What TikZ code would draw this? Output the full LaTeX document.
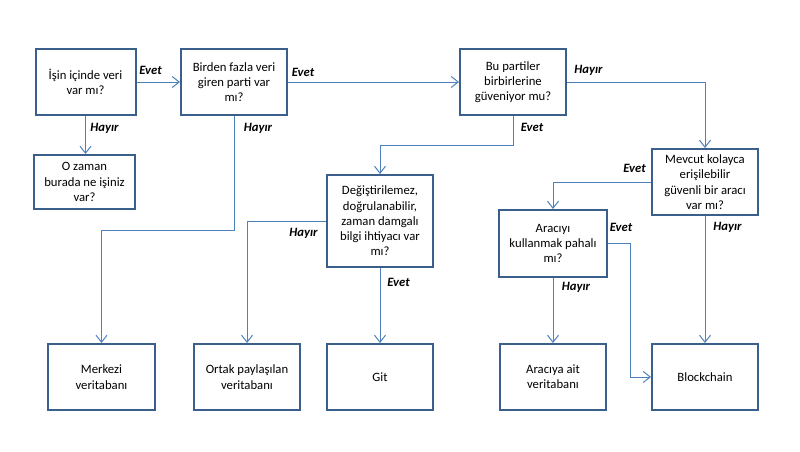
\documentclass[tikz,border=0pt]{standalone}
\usepackage{fontspec}
\setmainfont{Carlito}
\usetikzlibrary{arrows.meta}
\definecolor{boxblue}{HTML}{3A5F8B}
\definecolor{lineblue}{HTML}{4F81BD}
\begin{document}
\begin{tikzpicture}[x=1pt,y=-1pt,
  box/.style={draw=boxblue,line width=2pt,minimum width=106pt,minimum height=66pt,inner sep=0pt,align=center,font=\fontsize{12.7}{15.3}\selectfont},
  con/.style={draw=lineblue,line width=1pt,-{Straight Barb[length=7pt,width=11pt]}},
  ans/.style={font=\fontsize{12.7}{15.3}\selectfont\bfseries\itshape}]
\useasboundingbox (0,0) rectangle (800,452);
\node[box,minimum width=100pt] (hasdata) at (85.5,82) {İşin içinde veri\\var mı?};
\node[box] (multi) at (234,82) {Birden fazla veri\\giren parti var\\mı?};
\node[box] (trust) at (513,82) {Bu partiler\\birbirlerine\\güveniyor mu?};
\node[box,minimum width=101pt,minimum height=54pt] (why) at (84.5,182) {O zaman\\burada ne işiniz\\var?};
\node[box,minimum height=92pt] (immut) at (380,221) {Değiştirilemez,\\doğrulanabilir,\\zaman damgalı\\bilgi ihtiyacı var\\mı?};
\node[box] (third) at (705,182) {Mevcut kolayca\\erişilebilir\\güvenli bir aracı\\var mı?};
\node[box,minimum width=108pt,minimum height=67pt] (cost) at (553,243.5) {Aracıyı\\kullanmak pahalı\\mı?};
\node[box,minimum width=107pt] (central) at (101.5,377) {Merkezi\\veritabanı};
\node[box] (shared) at (247,377) {Ortak paylaşılan\\veritabanı};
\node[box] (git) at (380,377) {Git};
\node[box] (thirddb) at (553,377) {Aracıya ait\\veritabanı};
\node[box] (chain) at (705,377) {Blockchain};
\node[ans] (e1) at (150.5,70) {Evet};
\node[ans] (h1) at (104.5,128) {Hayır};
\node[ans] (h2) at (258,128) {Hayır};
\node[ans] (e2) at (303,72) {Evet};
\node[ans] (e3) at (532,127) {Evet};
\node[ans] (h3) at (588.5,70) {Hayır};
\node[ans] (h4) at (303.5,233) {Hayır};
\node[ans] (e4) at (398.5,282) {Evet};
\node[ans] (e5) at (634.5,168) {Evet};
\node[ans] (h5) at (727.5,227) {Hayır};
\node[ans] (e6) at (621,227) {Evet};
\node[ans] (h6) at (576,287) {Hayır};
\draw[con] (hasdata.east) -- (multi.west);
\draw[con] (hasdata.south) -- (hasdata.south |- why.north);
\draw[con] (multi.south) -- ++(0,114) -| (central.north);
\draw[con] (multi.east) -- (trust.west);
\draw[con] (trust.south) -- ++(0,29) -| (immut.north);
\draw[con] (trust.east) -| (third.north);
\draw[con] (immut.west) -| (shared.north);
\draw[con] (immut.south) -- (git.north);
\draw[con] (third.west) -| (cost.north);
\draw[con] (third.south) -- (chain.north);
\draw[con] (cost.south) -- (thirddb.north);
\draw[con] (cost.east) -- ++(22,0) |- (chain.west);
\end{tikzpicture}
\end{document}
